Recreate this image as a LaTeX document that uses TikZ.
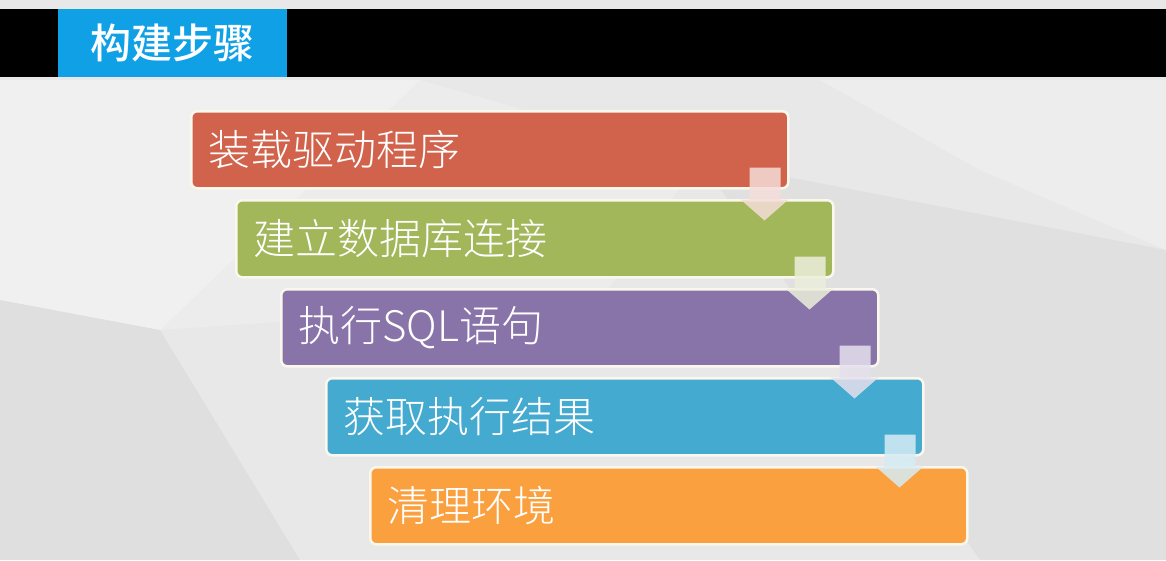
\documentclass[tikz,border=0pt]{standalone}
\usepackage{fontspec}
\newfontfamily\cjk{Noto Sans CJK SC}
\newfontfamily\cjklight{Noto Sans CJK SC Light}
\newfontfamily\cjkmed{Noto Sans CJK SC Medium}
\usetikzlibrary{calc}
\definecolor{bgbase}{RGB}{232,232,232}
\definecolor{tabblue}{RGB}{16,160,230}
\definecolor{cRed}{RGB}{209,99,76}
\definecolor{cGreen}{RGB}{162,182,90}
\definecolor{cPurple}{RGB}{137,116,170}
\definecolor{cBlue}{RGB}{68,170,207}
\definecolor{cOrange}{RGB}{251,160,63}
\definecolor{boxline}{RGB}{250,247,236}
\begin{document}
\begin{tikzpicture}[x=1pt,y=-1pt,
  stepbox/.style={rectangle, rounded corners=6pt, draw=boxline, line width=2.5pt,
    minimum height=77pt, text width=563pt, inner xsep=17pt, inner ysep=0pt,
    align=left, font=\cjklight\fontsize{42}{46}\selectfont, text=white, anchor=north west},
  flowarrow/.style={fill=#1!22!white, fill opacity=0.85}]
% background
\fill[bgbase] (0,0) rectangle (1166,560);
\fill[white,opacity=0.35] (0,80) -- (420,80) -- (160,330) -- (0,300) -- cycle;
\fill[white,opacity=0.25] (820,80) -- (1166,80) -- (1166,250) -- (980,170) -- cycle;
\fill[black,opacity=0.03] (700,160) -- (1166,250) -- (1166,560) -- (980,560) -- cycle;
\fill[black,opacity=0.035] (0,300) -- (160,330) -- (300,560) -- (0,560) -- cycle;
\fill[white,opacity=0.2] (160,330) -- (420,80) -- (700,160) -- (600,300) -- cycle;
\useasboundingbox (0,0) rectangle (1166,560);
% top bar
\fill[black] (0,9) rectangle (1166,77);
\node[fill=tabblue, minimum width=229pt, minimum height=68pt, inner sep=0pt,
  anchor=north west, text=white, font=\cjkmed\fontsize{41}{45}\selectfont] (title) at (58,9) {构建步骤};
% steps
\node[stepbox, fill=cRed] (b1) at (190,110) {装载驱动程序};
\node[stepbox, fill=cGreen] (b2) at (235,199) {建立数据库连接};
\node[stepbox, fill=cPurple] (b3) at (280,288) {执行SQL语句};
\node[stepbox, fill=cBlue] (b4) at (325,377) {获取执行结果};
\node[stepbox, fill=cOrange] (b5) at (369,466) {清理环境};
% arrows
\foreach \a/\c in {b1/cRed, b2/cGreen, b3/cPurple, b4/cBlue}{
  \begin{scope}[shift={(\a.south east)}]
    \fill[flowarrow=\c] (-40,-22) -- (-9,-22) -- (-9,10) -- (-1,10) -- (-25,31)
      -- (-49,10) -- (-40,10) -- cycle;
  \end{scope}
}
\end{tikzpicture}
\end{document}
